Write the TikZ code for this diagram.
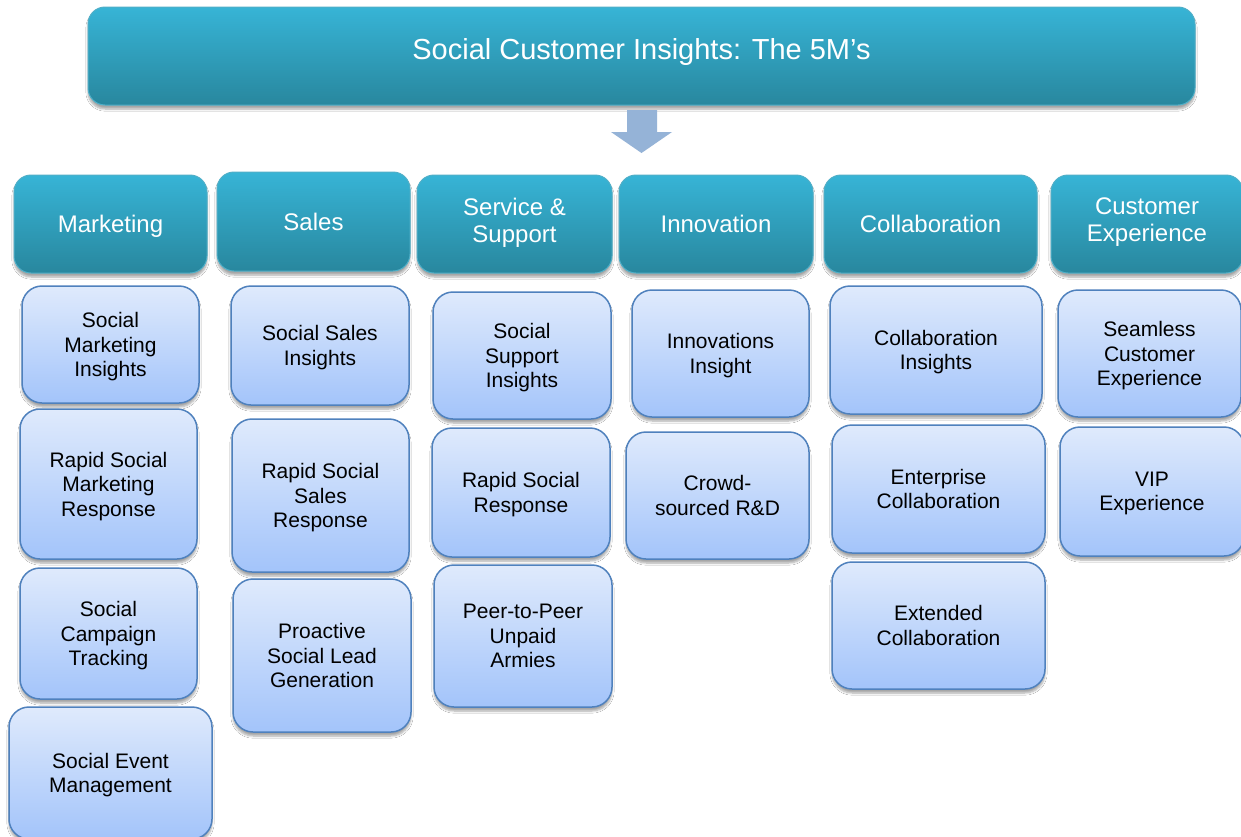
\documentclass[tikz,border=0pt]{standalone}
\usepackage{fontspec}
\setmainfont{Liberation Sans}
\usetikzlibrary{shadows.blur}

\definecolor{tealtop}{RGB}{55,180,214}
\definecolor{tealbot}{RGB}{40,135,158}
\definecolor{tealline}{RGB}{80,175,200}
\definecolor{itemtop}{RGB}{223,234,252}
\definecolor{itembot}{RGB}{163,196,250}
\definecolor{itemline}{RGB}{79,129,189}
\definecolor{flechaazul}{RGB}{149,179,215}

\tikzset{
    sombra/.style={blur shadow={shadow xshift=0pt, shadow yshift=-4pt,
        shadow blur steps=6, shadow opacity=35}},
    titlebox/.style={rounded corners=17pt, draw=tealline, line width=1pt,
        top color=tealtop, bottom color=tealbot, text=white, sombra,
        font=\fontsize{29}{33}\selectfont},
    headbox/.style={rounded corners=17pt, draw=tealline, line width=1pt,
        top color=tealtop, bottom color=tealbot, text=white, sombra,
        align=center, text depth=0pt, font=\fontsize{24}{27}\selectfont},
    itembox/.style={rounded corners=20pt, draw=itemline, line width=1.5pt,
        top color=itemtop, bottom color=itembot, text=black, sombra,
        align=center, text depth=0pt, font=\fontsize{21}{24.5}\selectfont}
}

\begin{document}
\begin{tikzpicture}[x=1pt, y=-1pt]
        \useasboundingbox (0,0) rectangle (1241,836);
        \fill[white] (0,0) rectangle (1241,836);

        % ~~~~ Titulo ~~~~%
        \node[titlebox, minimum width=1107pt, minimum height=98pt] (titulo) at (641.5,56)
            {\raisebox{15pt}{Social Customer Insights: The 5M’s}};

        % ~~~~ Flecha hacia abajo ~~~~%
        \fill[flechaazul] (627,110) -- (657,110) -- (657,132) -- (672,132)
            -- (641.5,153) -- (611,132) -- (627,132) -- cycle;

        % ~~~~ Cabeceras de las columnas ~~~~%
        \node[headbox, minimum width=193pt, minimum height=98pt] (marketing) at (110.5,224) {Marketing};
        \node[headbox, minimum width=193pt, minimum height=99pt] (sales) at (313.5,221.5) {Sales};
        \node[headbox, text depth=8pt, minimum width=195pt, minimum height=98pt] (service) at (514.5,224) {Service \&\\Support};
        \node[headbox, minimum width=194pt, minimum height=98pt] (innovation) at (716,224) {Innovation};
        \node[headbox, minimum width=213pt, minimum height=98pt] (collab) at (930.5,224) {Collaboration};
        \node[headbox, text depth=8pt, minimum width=192pt, minimum height=98pt] (custexp) at (1147,224) {Customer\\Experience};

        % ~~~~ Marketing ~~~~%
        \node[itembox, minimum width=177pt, minimum height=117pt] (mkt1) at (110.5,344.5) {Social\\Marketing\\Insights};
        \node[itembox, minimum width=177pt, minimum height=150pt] (mkt2) at (108.5,484) {Rapid Social\\Marketing\\Response};
        \node[itembox, minimum width=177pt, minimum height=131pt] (mkt3) at (108.5,633.5) {Social\\Campaign\\Tracking};
        \node[itembox, minimum width=203pt, minimum height=132pt] (mkt4) at (110.5,773) {Social Event\\Management};

        % ~~~~ Sales ~~~~%
        \node[itembox, minimum width=178pt, minimum height=119pt] (sal1) at (320,345.5) {Social Sales\\Insights};
        \node[itembox, minimum width=177pt, minimum height=153pt] (sal2) at (320.5,495.5) {Rapid Social\\Sales\\Response};
        \node[itembox, minimum width=178pt, minimum height=153pt] (sal3) at (322,655.5) {Proactive\\Social Lead\\Generation};

        % ~~~~ Service & Support ~~~~%
        \node[itembox, minimum width=178pt, minimum height=127pt] (srv1) at (522,355.5) {Social\\Support\\Insights};
        \node[itembox, minimum width=178pt, minimum height=129pt] (srv2) at (521,492.5) {Rapid Social\\Response};
        \node[itembox, minimum width=178pt, minimum height=142pt] (srv3) at (523,636) {Peer-to-Peer\\Unpaid\\Armies};

        % ~~~~ Innovation ~~~~%
        \node[itembox, minimum width=177pt, minimum height=127pt] (inn1) at (720.5,353.5) {Innovations\\Insight};
        \node[itembox, minimum width=183pt, minimum height=127pt] (inn2) at (717.5,495.5) {Crowd-\\sourced R\&D};

        % ~~~~ Collaboration ~~~~%
        \node[itembox, minimum width=212pt, minimum height=128pt] (col1) at (936,350) {Collaboration\\Insights};
        \node[itembox, minimum width=213pt, minimum height=128pt] (col2) at (938.5,489) {Enterprise\\Collaboration};
        \node[itembox, minimum width=213pt, minimum height=127pt] (col3) at (938.5,625.5) {Extended\\Collaboration};

        % ~~~~ Customer Experience ~~~~%
        \node[itembox, minimum width=183pt, minimum height=127pt] (cx1) at (1149.5,353.5) {Seamless\\Customer\\Experience};
        \node[itembox, minimum width=184pt, minimum height=129pt] (cx2) at (1152,491.5) {VIP\\Experience};
    \end{tikzpicture}
\end{document}
